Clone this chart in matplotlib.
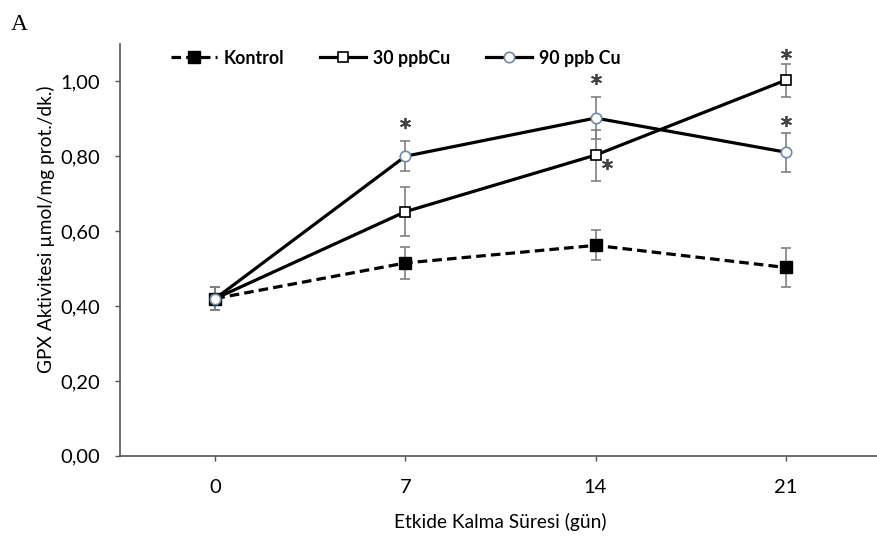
import numpy as np
import matplotlib.pyplot as plt
from matplotlib.ticker import FuncFormatter

days = ['0', '7', '14', '21']

kontrol = [0.42, 0.515, 0.562, 0.503]
kontrol_err = [0.03, 0.042, 0.04, 0.053]

cu30 = [0.42, 0.652, 0.803, 1.003]
cu30_err = [0.03, 0.066, 0.068, 0.044]

cu90 = [0.42, 0.80, 0.902, 0.811]
cu90_err = [0.03, 0.04, 0.057, 0.052]

# significance marks: (day index, y position)
star_x = [1, 2, 2.06, 3, 3]
star_y = [0.89, 1.005, 0.78, 1.074, 0.895]

plt.rcParams['font.family'] = ['Lato', 'DejaVu Sans']

fig = plt.figure(figsize=(8.78, 5.42), dpi=100)
ax = fig.add_axes([0.137, 0.159, 0.866, 0.76])
x = np.arange(len(days))

err_kw = dict(ecolor='#808080', elinewidth=1.2, capsize=3.5, capthick=1.2)

h1 = ax.errorbar(x, kontrol, yerr=kontrol_err, color='black', lw=2.3, ls=(0, (3, 1.6)),
                 marker='s', ms=8, mfc='black', mec='black', label='Kontrol', zorder=3, **err_kw)
h2 = ax.errorbar(x, cu30, yerr=cu30_err, color='black', lw=2.3,
                 marker='s', ms=7.5, mfc='white', mec='black', mew=1.2, label='30 ppbCu', zorder=3, **err_kw)
h3 = ax.errorbar(x, cu90, yerr=cu90_err, color='black', lw=2.3,
                 marker='o', ms=7.5, mfc='white', mec='#6f8ba8', mew=1.2, label='90 ppb Cu', zorder=3, **err_kw)

ax.plot(star_x, star_y, ls='none', marker=(6, 2, 0), ms=8, mew=1.3, color='#444444', zorder=4)

ax.set_xlim(-0.5, 3.5)
ax.set_ylim(0, 1.1)
ax.set_xticks(x)
ax.set_xticklabels(days)
ax.set_yticks(np.arange(0, 1.01, 0.2))
ax.yaxis.set_major_formatter(FuncFormatter(lambda v, p: f'{v:.2f}'.replace('.', ',')))
ax.tick_params(axis='both', labelsize=14.5, color='#555555', length=3.5, width=1)
ax.tick_params(axis='x', pad=13)
ax.tick_params(axis='y', pad=11)
for s in ['top', 'right']:
    ax.spines[s].set_visible(False)
for s in ['left', 'bottom']:
    ax.spines[s].set_color('#555555')
    ax.spines[s].set_linewidth(1.2)

ax.set_xlabel('Etkide Kalma Süresi (gün)', fontsize=13.8)
ax.set_ylabel('GPX Aktivitesi µmol/mg prot./dk.)', fontsize=13.8)
ax.xaxis.set_label_coords(0.5, -0.138)
ax.yaxis.set_label_coords(-0.086, 0.55)

ax.legend(handles=[h1[0], h2[0], h3[0]], labels=['Kontrol', '30 ppbCu', '90 ppb Cu'],
          loc='upper left', bbox_to_anchor=(0.045, 1.025), ncol=3, frameon=False,
          handlelength=2.6, columnspacing=2.0, handletextpad=0.4,
          prop={'weight': 'bold', 'size': 12.8})

fig.text(0.012, 0.975, 'A', family='Liberation Serif', fontsize=17, va='top')

fig.savefig('out.png', dpi=100)
